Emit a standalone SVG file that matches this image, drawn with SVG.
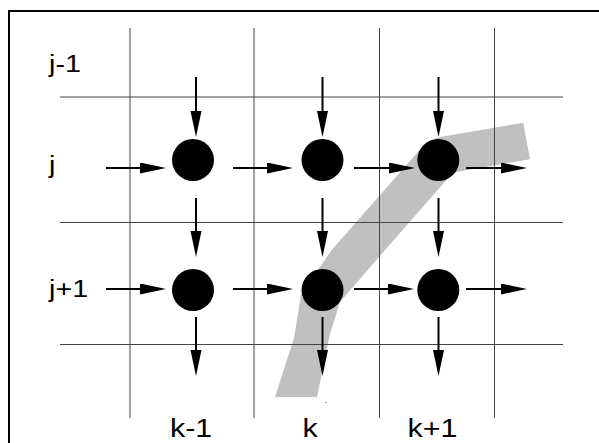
<svg xmlns="http://www.w3.org/2000/svg" width="599" height="443" viewBox="0 0 599 443">
  <style>
    .frame { fill: none; stroke: #000; stroke-width: 2; }
    .grid { stroke: #444; stroke-width: 1; fill: none; }
    .band { fill: #c0c0c0; stroke: none; }
    .node { fill: #000; }
    .arrow { stroke: #000; stroke-width: 2; fill: none; marker-end: url(#head); }
    .label { font-family: "Liberation Sans", Arial, sans-serif; fill: #000; }
    .row { font-size: 23px; }
    .col { font-size: 26px; }
  </style>
  <defs>
    <marker id="head" markerUnits="userSpaceOnUse" markerWidth="27" markerHeight="12" refX="0" refY="5.5" orient="auto">
      <path d="M0,0 L26,5.5 L0,11 Z" fill="#000"/>
    </marker>
  </defs>

  <rect width="599" height="443" fill="#fff"/>

  <!-- outer frame (open on the right and bottom) -->
  <path class="frame" d="M9,443 V11 H599"/>

  <!-- grey bent band behind the grid -->
  <path class="band" d="M275,397 L294,338 L301,295 L331.7,250 L417,153 Q429,139 440,137 L523.3,122.7 L530,159.3 L453,172.6 L385,250 L340,302 L330,334 L317,397 Z"/>

  <!-- grid -->
  <g id="grid">
    <line class="grid" x1="130" y1="28" x2="130" y2="418"/>
    <line class="grid" x1="254" y1="28" x2="254" y2="418"/>
    <line class="grid" x1="379.5" y1="28" x2="379.5" y2="418"/>
    <line class="grid" x1="494.5" y1="28" x2="494.5" y2="418"/>
    <line class="grid" x1="60" y1="97" x2="563" y2="97"/>
    <line class="grid" x1="60" y1="222.5" x2="563" y2="222.5"/>
    <line class="grid" x1="60" y1="344.5" x2="563" y2="344.5"/>
  </g>

  <!-- connectors -->
  <g id="connectors">
    <!-- row j, horizontal -->
    <line class="arrow" x1="106" y1="168" x2="140" y2="168"/>
    <line class="arrow" x1="233" y1="168" x2="267" y2="168"/>
    <line class="arrow" x1="354" y1="168" x2="389" y2="168"/>
    <line class="arrow" x1="466" y1="168" x2="501" y2="168"/>
    <!-- row j+1, horizontal -->
    <line class="arrow" x1="106" y1="289" x2="140" y2="289"/>
    <line class="arrow" x1="233" y1="289" x2="267" y2="289"/>
    <line class="arrow" x1="354" y1="289" x2="388" y2="289"/>
    <line class="arrow" x1="466" y1="289" x2="501" y2="289"/>
    <!-- vertical, column k-1 -->
    <line class="arrow" x1="196" y1="77" x2="196" y2="111"/>
    <line class="arrow" x1="196" y1="198" x2="196" y2="231"/>
    <line class="arrow" x1="196" y1="317" x2="196" y2="350"/>
    <!-- vertical, column k -->
    <line class="arrow" x1="322.5" y1="77" x2="322.5" y2="111"/>
    <line class="arrow" x1="322.5" y1="198" x2="322.5" y2="231"/>
    <line class="arrow" x1="322.5" y1="317" x2="322.5" y2="350"/>
    <!-- vertical, column k+1 -->
    <line class="arrow" x1="438.5" y1="77" x2="438.5" y2="111"/>
    <line class="arrow" x1="438.5" y1="198" x2="438.5" y2="231"/>
    <line class="arrow" x1="438.5" y1="317" x2="438.5" y2="350"/>
  </g>

  <!-- nodes -->
  <g id="node-j-km1"><circle class="node" cx="193" cy="160" r="21"/></g>
  <g id="node-j-k"><circle class="node" cx="322.5" cy="160" r="21"/></g>
  <g id="node-j-kp1"><circle class="node" cx="438.3" cy="160" r="21"/></g>
  <g id="node-jp1-km1"><circle class="node" cx="193" cy="290" r="21"/></g>
  <g id="node-jp1-k"><circle class="node" cx="322.5" cy="290" r="21"/></g>
  <g id="node-jp1-kp1"><circle class="node" cx="438.3" cy="290" r="21"/></g>

  <!-- small speck below the band -->
  <rect x="325.5" y="402" width="1" height="1" fill="#555"/>

  <!-- index labels (slightly widened glyphs) -->
  <g id="labels">
    <text class="label row" transform="translate(49,72) scale(1.25,1)">j-1</text>
    <text class="label row" transform="translate(49,173) scale(1.25,1)">j</text>
    <text class="label row" transform="translate(49,297) scale(1.25,1)">j+1</text>
    <text class="label col" transform="translate(170,437) scale(1.17,1)">k-1</text>
    <text class="label col" transform="translate(302.5,437) scale(1.17,1)">k</text>
    <text class="label col" transform="translate(407.5,437) scale(1.17,1)">k+1</text>
  </g>
</svg>
